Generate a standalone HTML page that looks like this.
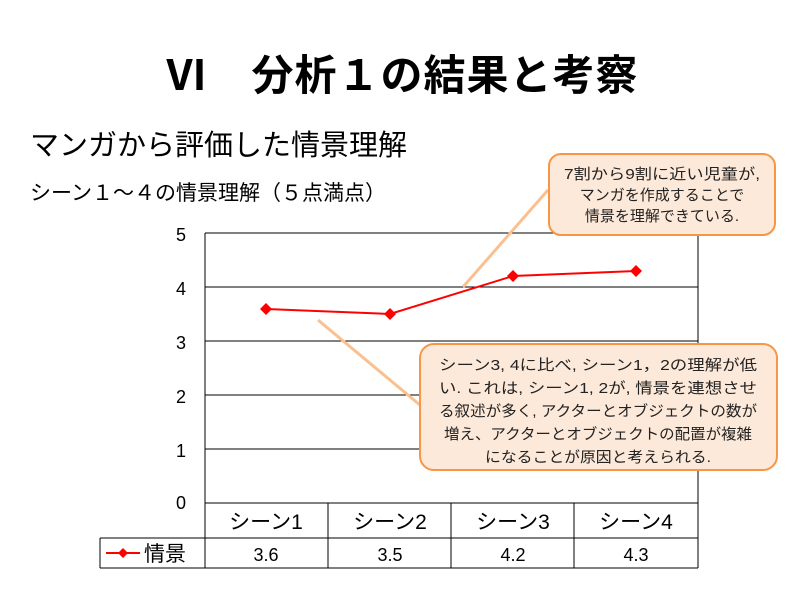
<!DOCTYPE html>
<html><head><meta charset="utf-8"><style>
body{margin:0;width:800px;height:600px;background:#fff;overflow:hidden;font-family:"Liberation Sans","Noto Sans CJK JP",sans-serif}
</style></head><body>
<svg width="800" height="600" xmlns="http://www.w3.org/2000/svg" font-family="Liberation Sans, Noto Sans CJK JP, sans-serif">
<text x="402" y="90" text-anchor="middle" font-size="42" font-weight="bold" letter-spacing="1">Ⅵ　分析１の結果と考察</text>
<text x="30" y="155" font-size="29">マンガから評価した情景理解</text>
<text x="30" y="200" font-size="21">シーン１～４の情景理解（５点満点）</text>
<g stroke="#000" stroke-width="1">
<line x1="205" y1="233" x2="698" y2="233"/>
<line x1="205" y1="287" x2="698" y2="287"/>
<line x1="205" y1="341" x2="698" y2="341"/>
<line x1="205" y1="395" x2="698" y2="395"/>
<line x1="205" y1="449" x2="698" y2="449"/>
<line x1="205" y1="233" x2="205" y2="568"/>
<line x1="698" y1="233" x2="698" y2="568"/>
<line x1="205" y1="503" x2="698" y2="503"/>
<line x1="100" y1="538" x2="698" y2="538"/>
<line x1="100" y1="568" x2="698" y2="568"/>
<line x1="100" y1="538" x2="100" y2="568"/>
<line x1="328" y1="503" x2="328" y2="568"/>
<line x1="451" y1="503" x2="451" y2="568"/>
<line x1="574" y1="503" x2="574" y2="568"/>
</g>
<g font-size="18" text-anchor="end">
<text x="186" y="241">5</text><text x="186" y="295">4</text><text x="186" y="349">3</text>
<text x="186" y="403">2</text><text x="186" y="457">1</text><text x="186" y="509">0</text>
</g>
<g font-size="21" text-anchor="middle">
<text x="266" y="529">シーン1</text><text x="390" y="529">シーン2</text>
<text x="513" y="529">シーン3</text><text x="636" y="529">シーン4</text>
</g>
<g font-size="18" text-anchor="middle">
<text x="266" y="561">3.6</text><text x="390" y="561">3.5</text>
<text x="513" y="561">4.2</text><text x="636" y="561">4.3</text>
</g>
<line x1="106" y1="553" x2="140" y2="553" stroke="red" stroke-width="2"/>
<path d="M123 548 L128 553 L123 558 L118 553Z" fill="red"/>
<text x="144" y="561" font-size="21">情景</text>
<line x1="548" y1="190" x2="463" y2="287" stroke="#fac090" stroke-width="3"/>
<line x1="420" y1="405" x2="318" y2="320" stroke="#fac090" stroke-width="3"/>
<polyline points="266,309 390,314 513,276 636,271" fill="none" stroke="red" stroke-width="2"/>
<g fill="red">
<path d="M266 303 L272 309 L266 315 L260 309Z"/>
<path d="M390 308 L396 314 L390 320 L384 314Z"/>
<path d="M513 270 L519 276 L513 282 L507 276Z"/>
<path d="M636 265 L642 271 L636 277 L630 271Z"/>
</g>
<rect x="549" y="154" width="226" height="81" rx="12" fill="#fde9d9" stroke="#f79646" stroke-width="2"/>
<g font-size="15" text-anchor="middle" fill="#222">
<text x="662" y="179" textLength="196" lengthAdjust="spacingAndGlyphs">7割から9割に近い児童が,</text>
<text x="662" y="200">マンガを作成することで</text>
<text x="662" y="221">情景を理解できている.</text>
</g>
<rect x="420" y="344" width="357" height="126" rx="14" fill="#fde9d9" stroke="#f79646" stroke-width="2"/>
<g font-size="15" text-anchor="middle" fill="#222">
<text x="598" y="370" textLength="318" lengthAdjust="spacingAndGlyphs">シーン3, 4に比べ, シーン1，2の理解が低</text>
<text x="598" y="393" textLength="318" lengthAdjust="spacingAndGlyphs">い. これは, シーン1, 2が, 情景を連想させ</text>
<text x="598" y="416" textLength="318" lengthAdjust="spacingAndGlyphs">る叙述が多く, アクターとオブジェクトの数が</text>
<text x="598" y="439" textLength="308" lengthAdjust="spacingAndGlyphs">増え、アクターとオブジェクトの配置が複雑</text>
<text x="598" y="462" textLength="226" lengthAdjust="spacingAndGlyphs">になることが原因と考えられる.</text>
</g>
</svg>
</body></html>
